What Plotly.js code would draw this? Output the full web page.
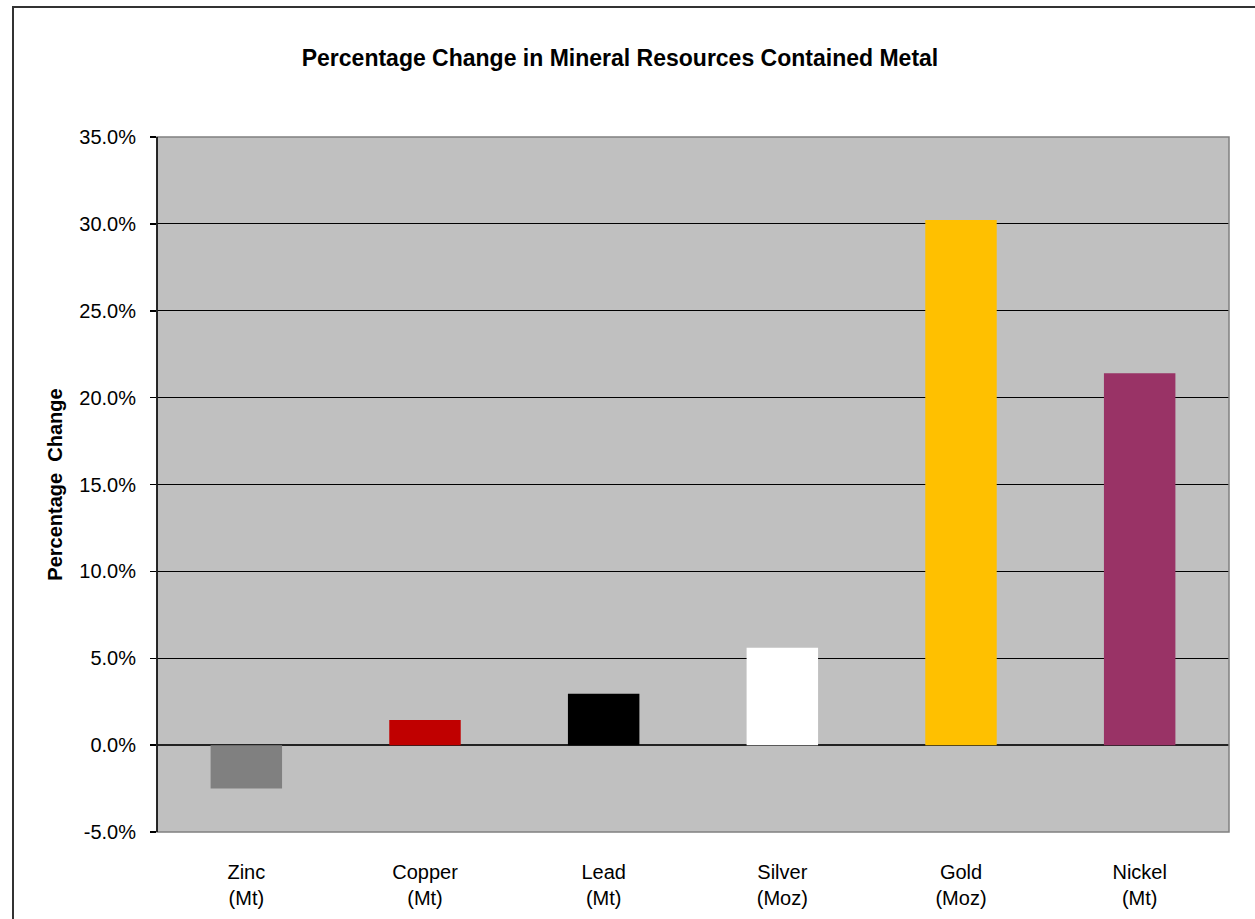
<!DOCTYPE html>
<html>
<head>
<meta charset="utf-8">
<script src="https://cdn.plot.ly/plotly-3.0.1.min.js"></script>
<style>
  html, body { margin: 0; padding: 0; background: #fff; }
  #chart { position: absolute; left: 0; top: 0; width: 1255px; height: 919px; }
  #frame { position: absolute; left: 12px; top: 6px; width: 1300px; height: 1000px;
           border: 2px solid #333; pointer-events: none; box-sizing: border-box; }
</style>
</head>
<body>
<div id="chart"></div>
<div id="frame"></div>
<script>
const categories = ["Zinc<br>(Mt)", "Copper<br>(Mt)", "Lead<br>(Mt)", "Silver<br>(Moz)", "Gold<br>(Moz)", "Nickel<br>(Mt)"];
const percentChange = [-0.025, 0.0145, 0.0295, 0.056, 0.3023, 0.2141];
const barColors = ["#808080", "#C00000", "#000000", "#FFFFFF", "#FFC000", "#993366"];
const yTickValues = [-0.05, 0, 0.05, 0.10, 0.15, 0.20, 0.25, 0.30, 0.35];
const yTickLabels = ["-5.0%", "0.0%", "5.0%", "10.0%", "15.0%", "20.0%", "25.0%", "30.0%", "35.0%"];

const font = "Liberation Sans, Arial, sans-serif";

const trace = {
  type: "bar",
  x: categories,
  y: percentChange,
  marker: { color: barColors, line: { width: 0 } },
  width: 0.4,
  hoverinfo: "skip"
};

const layout = {
  width: 1255,
  height: 919,
  margin: { l: 157, r: 26, t: 137, b: 87 },
  paper_bgcolor: "#FFFFFF",
  plot_bgcolor: "#C0C0C0",
  showlegend: false,
  font: { family: font, color: "#000" },
  title: {
    text: "<b>Percentage Change in Mineral Resources Contained Metal</b>",
    font: { family: font, size: 23, color: "#000" },
    x: 0.494, xref: "container", xanchor: "center",
    y: 1 - 58 / 919, yref: "container", yanchor: "middle"
  },
  xaxis: {
    type: "category",
    showgrid: false,
    showline: false,
    ticks: "",
    tickfont: { family: font, size: 20, color: "#000" },
    ticklabelstandoff: 26,
    fixedrange: true
  },
  yaxis: {
    range: [-0.05, 0.35],
    tickvals: yTickValues,
    ticktext: yTickLabels,
    showgrid: true,
    gridcolor: "#000000",
    gridwidth: 1,
    zeroline: true,
    zerolinecolor: "#222222",
    zerolinewidth: 2,
    showline: false,
    ticks: "outside",
    ticklen: 6,
    tickcolor: "#000",
    tickwidth: 1.5,
    ticklabelstandoff: 10,
    tickfont: { family: font, size: 20, color: "#000" },
    title: {
      text: "<b>Percentage  Change</b>",
      font: { family: font, size: 20, color: "#000" },
      standoff: 11
    },
    fixedrange: true
  },
  shapes: [
    {
      type: "rect", xref: "paper", yref: "paper",
      x0: 0, x1: 1, y0: 0, y1: 1,
      line: { color: "#808080", width: 1.5 },
      layer: "above"
    },
    {
      type: "line", xref: "paper", yref: "paper",
      x0: 0, x1: 0, y0: 0, y1: 1,
      line: { color: "#000000", width: 1.5 },
      layer: "above"
    }
  ]
};

Plotly.newPlot("chart", [trace], layout, { displayModeBar: false, staticPlot: true });
</script>
</body>
</html>
